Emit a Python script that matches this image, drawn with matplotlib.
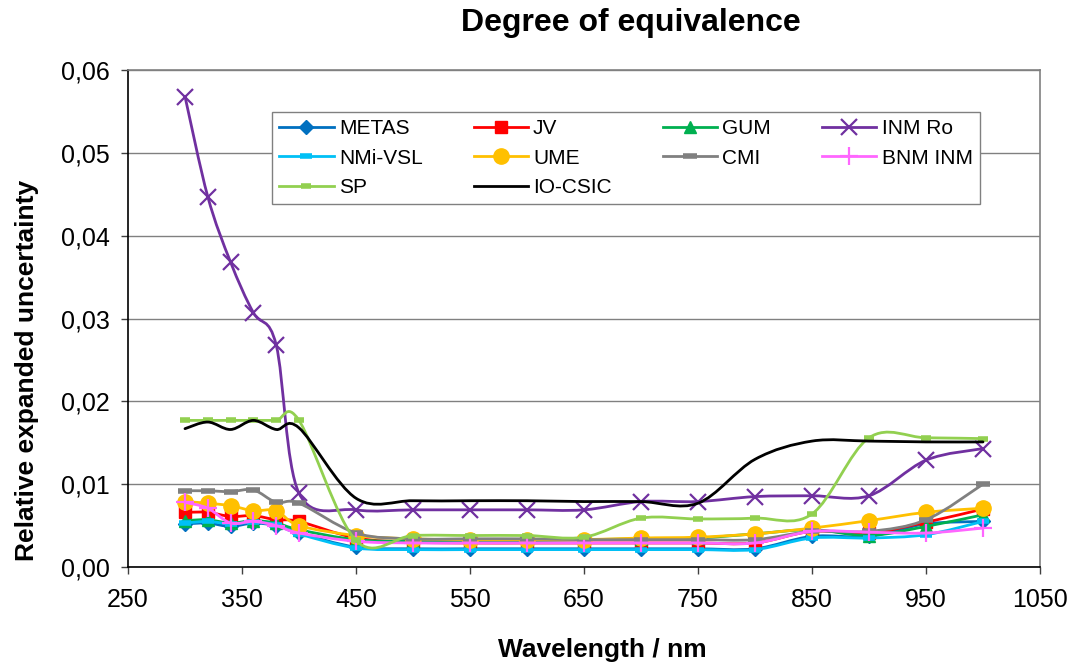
import numpy as np
import matplotlib.pyplot as plt
from matplotlib.path import Path
from matplotlib.patches import PathPatch
from matplotlib.lines import Line2D
from matplotlib.ticker import FuncFormatter

plt.rcParams['font.family'] = ['Liberation Sans', 'DejaVu Sans']

# Wavelengths (nm)
wl = [300, 320, 340, 360, 380, 400, 450, 500, 550, 600, 650, 700, 750, 800, 850, 900, 950, 1000]

# Relative expanded uncertainty per laboratory
metas   = [0.0052, 0.0053, 0.0049, 0.0053, 0.0050, 0.0041, 0.0024, 0.0022, 0.0022, 0.0022, 0.0022, 0.0022, 0.0022, 0.0022, 0.0037, 0.0037, 0.0052, 0.0055]
jv      = [0.0066, 0.0066, 0.0061, 0.0062, 0.0057, 0.0055, 0.0035, 0.0030, 0.0029, 0.0029, 0.0029, 0.0029, 0.0029, 0.0029, 0.0043, 0.0041, 0.0054, 0.0070]
gum     = [0.0056, 0.0057, 0.0053, 0.0056, 0.0053, 0.0045, 0.0033, 0.0031, 0.0032, 0.0032, 0.0033, 0.0034, 0.0035, 0.0040, 0.0045, 0.0038, 0.0049, 0.0063]
inm_ro  = [0.0568, 0.0447, 0.0368, 0.0307, 0.0268, 0.0089, 0.0069, 0.0069, 0.0069, 0.0069, 0.0069, 0.0079, 0.0079, 0.0085, 0.0086, 0.0086, 0.0129, 0.0143]
nmi_vsl = [0.0053, 0.0055, 0.0052, 0.0054, 0.0051, 0.0040, 0.0023, 0.0021, 0.0021, 0.0021, 0.0021, 0.0021, 0.0021, 0.0021, 0.0035, 0.0035, 0.0039, 0.0055]
ume     = [0.0079, 0.0077, 0.0074, 0.0068, 0.0068, 0.0050, 0.0038, 0.0034, 0.0033, 0.0033, 0.0033, 0.0035, 0.0036, 0.0040, 0.0047, 0.0056, 0.0066, 0.0071]
cmi     = [0.0092, 0.0092, 0.0091, 0.0093, 0.0078, 0.0077, 0.0041, 0.0034, 0.0034, 0.0034, 0.0033, 0.0033, 0.0033, 0.0033, 0.0043, 0.0043, 0.0057, 0.0100]
bnm_inm = [0.0078, 0.0071, 0.0053, 0.0055, 0.0050, 0.0041, 0.0031, 0.0029, 0.0029, 0.0029, 0.0029, 0.0029, 0.0029, 0.0029, 0.0043, 0.0042, 0.0041, 0.0047]
sp      = [0.0177, 0.0177, 0.0177, 0.0177, 0.0177, 0.0177, 0.0032, 0.0038, 0.0038, 0.0038, 0.0036, 0.0059, 0.0058, 0.0059, 0.0064, 0.0156, 0.0156, 0.0155]
io_csic = [0.0167, 0.0175, 0.0166, 0.0177, 0.0166, 0.0168, 0.0083, 0.0080, 0.0080, 0.0080, 0.0079, 0.0079, 0.0077, 0.0130, 0.0152, 0.0152, 0.0151, 0.0151]

series = [
    ("METAS",   metas,   "#0070C0", dict(marker="D", ms=7)),
    ("JV",      jv,      "#FF0000", dict(marker="s", ms=8)),
    ("GUM",     gum,     "#00B050", dict(marker="^", ms=8)),
    ("INM Ro",  inm_ro,  "#7030A0", dict(marker="x", ms=11, mew=1.6)),
    ("NMi-VSL", nmi_vsl, "#00C0F6", dict(marker="_", ms=8, mew=4)),
    ("UME",     ume,     "#FFC000", dict(marker="o", ms=11)),
    ("CMI",     cmi,     "#808080", dict(marker="_", ms=10, mew=4)),
    ("BNM INM", bnm_inm, "#FF66FF", dict(marker="+", ms=13, mew=1.6)),
    ("SP",      sp,      "#92D050", dict(marker="_", ms=7, mew=4)),
    ("IO-CSIC", io_csic, "#000000", dict(marker="None")),
]


def smooth_path(x, y):
    # Excel-like smoothed line: cubic Bezier segments with Catmull-Rom tangents
    p = np.column_stack([x, y]).astype(float)
    ext = np.vstack([p[0], p, p[-1]])
    verts = [p[0]]
    codes = [Path.MOVETO]
    for i in range(len(p) - 1):
        c1 = ext[i + 1] + (ext[i + 2] - ext[i]) / 6
        c2 = ext[i + 2] - (ext[i + 3] - ext[i + 1]) / 6
        verts += [c1, c2, ext[i + 2]]
        codes += [Path.CURVE4] * 3
    return Path(verts, codes)


fig = plt.figure(figsize=(10.73, 6.68), dpi=100)
ax = fig.add_axes([128 / 1073, 101 / 668, 912 / 1073, 497 / 668])

handles = {}
for k, (name, vals, col, mk) in enumerate(series):
    ax.add_patch(PathPatch(smooth_path(wl, vals), fill=False, edgecolor=col,
                           lw=2.0, zorder=3 + k, capstyle='round'))
    ax.plot(wl, vals, linestyle="none", color=col, mfc=col, mec=col,
            zorder=3 + k, **mk)
    handles[name] = Line2D([], [], color=col, lw=2.0, mfc=col, mec=col, **mk)

ax.set_xlim(250, 1050)
ax.set_ylim(0, 0.06)
ax.set_xticks(np.arange(250, 1051, 100))
ax.set_yticks(np.arange(0, 0.061, 0.01))
ax.yaxis.set_major_formatter(FuncFormatter(lambda v, p: f"{v:.2f}".replace(".", ",")))
ax.tick_params(labelsize=18, length=5, width=1, direction='out', color='#404040')
ax.tick_params(axis='x', pad=10)
ax.tick_params(axis='y', pad=8)
ax.grid(axis='y', color='#808080', lw=1)
ax.set_axisbelow(True)
for s in ['top', 'right']:
    ax.spines[s].set_color('#808080')
    ax.spines[s].set_linewidth(1.2)
for s in ['left', 'bottom']:
    ax.spines[s].set_color('#000000')
    ax.spines[s].set_linewidth(1.2)

order = ["METAS", "NMi-VSL", "SP", "JV", "UME", "IO-CSIC", "GUM", "CMI", "INM Ro", "BNM INM"]
leg = ax.legend([handles[n] for n in order], order, ncol=4, loc='upper left',
                bbox_to_anchor=(0.158, 0.728, 0.776, 0.1875), mode='expand',
                fontsize=15, frameon=True, fancybox=False, framealpha=1,
                edgecolor='#808080', handlelength=2.6, handletextpad=0.25,
                borderaxespad=0, labelspacing=0.5, borderpad=0.35)
leg.get_frame().set_linewidth(1)
leg.set_zorder(20)

fig.text(631 / 1073, 1 - 23 / 668, "Degree of equivalence", ha='center', va='center',
         fontsize=23, fontweight='bold')
fig.text(602 / 1073, 1 - 650 / 668, "Wavelength / nm", ha='center', va='center',
         fontsize=19, fontweight='bold')
fig.text(27 / 1073, 1 - 370 / 668, "Relative expanded uncertainty", ha='center', va='center',
         rotation=90, fontsize=19, fontweight='bold')

fig.savefig("out.png", dpi=100)
